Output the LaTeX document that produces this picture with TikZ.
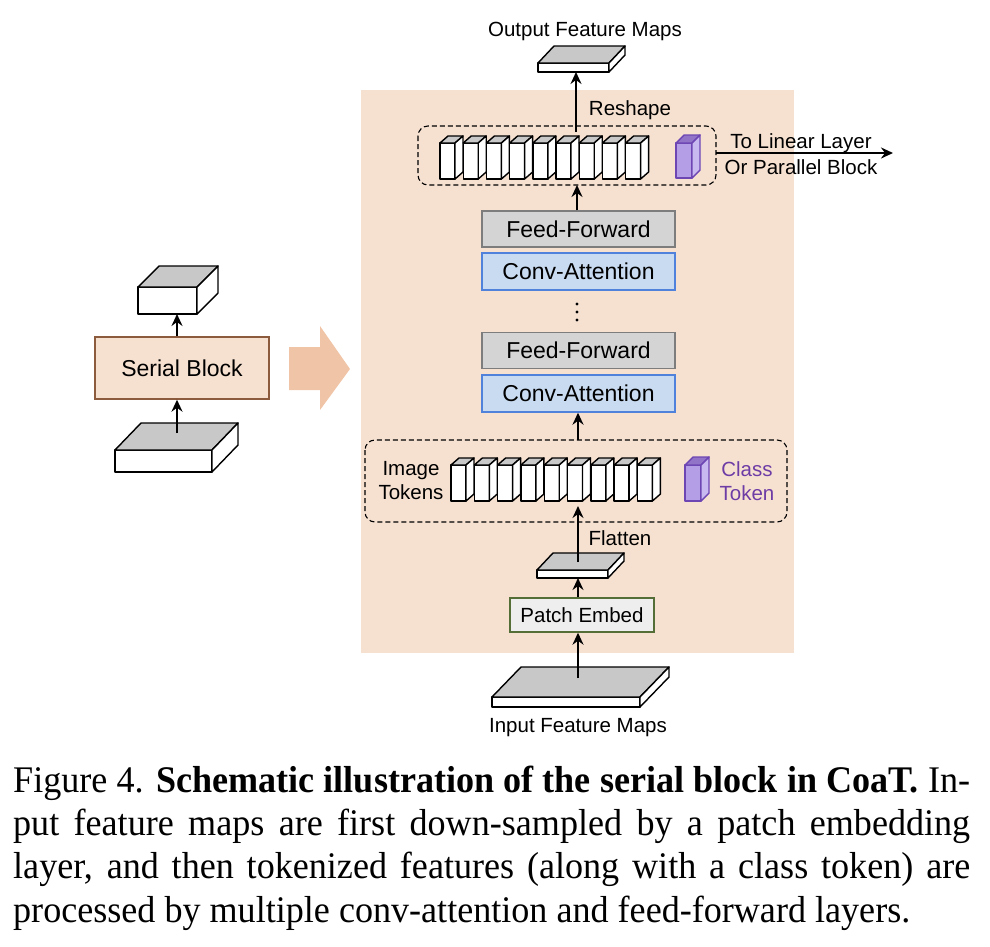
\documentclass[tikz,border=0pt]{standalone}
\usepackage{fontspec}
\setmainfont{Liberation Sans}
\newfontfamily\capfont[FakeStretch=0.96]{Liberation Serif}
\usetikzlibrary{arrows.meta}
\definecolor{peach}{RGB}{246,225,209}
\definecolor{peacharrow}{RGB}{240,196,166}
\definecolor{peachborder}{RGB}{140,90,60}
\definecolor{topgray}{RGB}{200,200,200}
\definecolor{ffgray}{RGB}{212,212,212}
\definecolor{ffborder}{RGB}{125,125,125}
\definecolor{cablue}{RGB}{201,219,240}
\definecolor{caborder}{RGB}{80,130,220}
\definecolor{pefill}{RGB}{238,238,238}
\definecolor{peborder}{RGB}{85,110,55}
\definecolor{clsfront}{RGB}{180,158,230}
\definecolor{clsside}{RGB}{200,185,240}
\definecolor{clstop}{RGB}{145,115,200}
\definecolor{clsborder}{RGB}{110,70,180}
\definecolor{clstext}{RGB}{110,60,165}
\def\cfront{white}\def\ctop{topgray}\def\cside{white}\def\cdraw{black}
\newcommand{\cuboid}[6]{% x y w h dx dy
  \filldraw[draw=\cdraw, fill=\cfront, line join=round, line width=1.4pt] (#1,#2) rectangle ({#1+#3},{#2+#4});
  \filldraw[draw=\cdraw, fill=\ctop, line join=round, line width=1.4pt] (#1,#2) -- ({#1+#5},{#2-#6}) -- ({#1+#3+#5},{#2-#6}) -- ({#1+#3},#2) -- cycle;
  \filldraw[draw=\cdraw, fill=\cside, line join=round, line width=1.4pt] ({#1+#3},#2) -- ({#1+#3+#5},{#2-#6}) -- ({#1+#3+#5},{#2+#4-#6}) -- ({#1+#3},{#2+#4}) -- cycle;
}
\tikzset{
  lbl/.style={font=\fontsize{20.5}{24}\selectfont, inner sep=0pt},
  blk/.style={font=\fontsize{23}{27}\selectfont, inner sep=0pt, line width=1.4pt},
  ffbox/.style={blk, draw=ffborder, fill=ffgray, minimum width=193pt, minimum height=36pt},
  cabox/.style={blk, draw=caborder, fill=cablue, minimum width=193pt, minimum height=37pt},
  dashbox/.style={draw, dash pattern=on 5pt off 3pt, rounded corners=10pt, line width=1.1pt},
  conn/.style={-{Stealth[length=12pt,width=11pt,inset=4pt]}, line width=2pt},
  capline/.style={anchor=base west, inner sep=0pt, font=\capfont\fontsize{37.6}{43}\selectfont},
}
\begin{document}
\begin{tikzpicture}[x=1pt,y=-1pt]
\useasboundingbox (0,0) rectangle (990,946);
% peach background
\fill[peach] (361,90) rectangle (794,653);

% ===== left part =====
\node[blk, draw=peachborder, fill=peach, minimum width=174pt, minimum height=62pt] (serial) at (182,368) {Serial Block};
\cuboid{138}{287}{59}{27}{21}{21}
\coordinate (cubebot) at (177,314);
\cuboid{115}{450}{97}{22}{26}{27}
\coordinate (slabL) at (177,433);
\draw[conn] (serial.north -| cubebot) -- (cubebot);
\draw[conn] (slabL) -- (serial.south -| slabL);
% big arrow
\fill[peacharrow] (289,347) -- (320,347) -- (320,326) -- (350,369) -- (320,410) -- (320,390) -- (289,390) -- cycle;

% ===== top =====
\node[lbl] (outlbl) at (585,31) {Output Feature Maps};
\cuboid{538}{63}{71}{9}{16}{17}
\coordinate (outbot) at (576,72);
\node[lbl] (reshape) at (630,110) {Reshape};
\draw[dashbox] (418,126) rectangle (716,185);
\coordinate (topdashN) at (576,132);
\coordinate (topdashS) at (577,185);
\coordinate (topdashE) at (716,153);
\foreach \i in {0,...,8} {
  \cuboid{440+23.2*\i}{143}{15}{36}{8}{7}
}
{\def\cfront{clsfront}\def\ctop{clstop}\def\cside{clsside}\def\cdraw{clsborder}
 \cuboid{676}{143}{16}{35}{8}{8}}
\coordinate (linend) at (893,153);
\node[lbl] (tolin) at (801,143) {To Linear Layer};
\node[lbl] (orpar) at (801,167) {Or Parallel Block};
\draw[conn] (topdashN) -- (outbot);
\draw[conn] (topdashE) -- (linend);

% ===== stack =====
\node[ffbox] (ff1) at (578.5,229) {Feed-Forward};
\node[cabox] (ca1) at (578.5,271.5) {Conv-Attention};
\foreach \yy in {304,312,320} { \fill (577,\yy) circle (1.6pt); }
\node[ffbox] (ff2) at (578.5,350.5) {Feed-Forward};
\node[cabox] (ca2) at (578.5,393.5) {Conv-Attention};
\draw[conn] (ff1.north -| topdashS) -- (topdashS);

% ===== bottom tokens =====
\draw[dashbox] (365,440) rectangle (787,522);
\coordinate (botdashN) at (578,440);
\coordinate (tokbot) at (578,506);
\foreach \i in {0,...,8} {
  \cuboid{451+23.3*\i}{465}{15}{36}{8}{7}
}
{\def\cfront{clsfront}\def\ctop{clstop}\def\cside{clsside}\def\cdraw{clsborder}
 \cuboid{685}{465}{16}{36}{8}{8}}
\node[lbl, align=center] (imgtok) at (411,481) {Image\\Tokens};
\node[lbl, align=center, text=clstext] (clstok) at (747,481) {Class\\Token};
\draw[conn] (botdashN) -- (ca2.south -| botdashN);

\node[lbl] (flatten) at (620,538) {Flatten};
\cuboid{537}{570}{71}{8}{16}{17}
\coordinate (flattop) at (578,562);
\coordinate (flatbot) at (578,578);
\draw[conn] (flattop) -- (tokbot);

\node[blk, font=\fontsize{20.5}{24}\selectfont, draw=peborder, fill=pefill, minimum width=144pt, minimum height=34pt] (patch) at (582,615) {Patch Embed};
\draw[conn] (patch.north -| flatbot) -- (flatbot);

\cuboid{492}{697}{148}{10}{29}{30}
\coordinate (inslab) at (578,678);
\draw[conn] (inslab) -- (patch.south -| inslab);
\node[lbl] (inlbl) at (578,728) {Input Feature Maps};

% ===== caption =====
\node[capline] (cap1) at (13,792) {\makebox[957pt][s]{Figure 4. \textbf{Schematic illustration of the serial block in CoaT.} In-}};
\node[capline] (cap2) at (13,835.5) {\makebox[957pt][s]{put feature maps are first down-sampled by a patch embedding}};
\node[capline] (cap3) at (13,878.7) {\makebox[957pt][s]{layer, and then tokenized features (along with a class token) are}};
\node[capline] (cap4) at (13,922) {processed by multiple conv-attention and feed-forward layers.};
\end{tikzpicture}
\end{document}
